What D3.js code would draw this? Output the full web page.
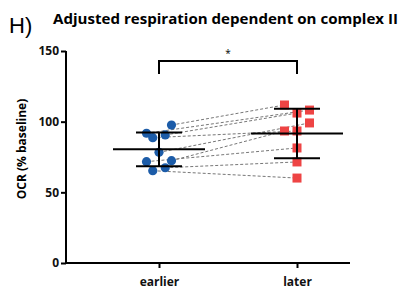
<!DOCTYPE html>
<html>
<head>
<meta charset="utf-8">
<script src="https://cdn.jsdelivr.net/npm/d3@7"></script>
<style>
  body { margin: 0; background: #fff; }
  svg { display: block; font-family: "Open Sans", "Liberation Sans", sans-serif; }
</style>
</head>
<body>
<div id="chart"></div>
<script>
var groups = ["earlier", "later"];
var earlier = [97.6, 91.8, 90.6, 88.7, 78.3, 72.4, 71.7, 67.4, 65.3];
var later = [111.8, 108.2, 106.1, 93.4, 99.1, 93.4, 81.4, 71.5, 60.1];
// horizontal jitter of each point, in columns of the swarm (-1, 0, 1)
var earlierCol = [1, -1, 0.5, -0.5, 0, 1, -1, 0.5, -0.5];
var laterCol = [-1, 1, 0, 0, 1, -1, 0, 0, 0];
var yTicks = [0, 50, 100, 150];

(function () {
    var width = 409, height = 289;
    var svg = d3.select("#chart").append("svg")
        .attr("width", width).attr("height", height);

    var x = d3.scalePoint().domain(groups).range([159, 297]);
    var y = d3.scaleLinear().domain([0, 150]).range([263, 51]);
    var jit = 12.5;

    // title
    svg.append("text").attr("x", 9).attr("y", 33)
        .style("font-size", "22px").style("font-family", "Liberation Sans, sans-serif")
        .text("H)");
    svg.append("text").attr("x", 53).attr("y", 24)
        .style("font-size", "14px").style("font-weight", "bold")
        .attr("textLength", 345).attr("lengthAdjust", "spacingAndGlyphs")
        .text("Adjusted respiration dependent on complex II");

    // axes
    var yAxis = svg.append("g").attr("transform", "translate(66,0)")
        .call(d3.axisLeft(y).tickValues(yTicks).tickSize(5).tickPadding(2));
    var xAxis = svg.append("g").attr("transform", "translate(0,263)")
        .call(d3.axisBottom(x).tickSize(5).tickPadding(9));
    // extend the x axis line to the plot width
    xAxis.select(".domain").attr("d", "M66,0H350");
    yAxis.select(".domain").attr("d", "M0,51V263");
    svg.selectAll(".domain, .tick line").attr("stroke", "#000").attr("stroke-width", 2);
    svg.selectAll(".tick text").style("font-size", "12px").style("font-weight", "bold")
        .style("font-family", "Open Sans, sans-serif").attr("fill", "#111");

    svg.append("text")
        .attr("transform", "translate(26,149) rotate(-90)")
        .attr("text-anchor", "middle")
        .style("font-size", "12px").style("font-weight", "bold")
        .text("OCR (% baseline)");

    // paired dashed lines
    svg.append("g").selectAll("line").data(earlier).enter().append("line")
        .attr("x1", (d, i) => x("earlier") + earlierCol[i] * jit)
        .attr("y1", d => y(d))
        .attr("x2", (d, i) => x("later") + laterCol[i] * jit)
        .attr("y2", (d, i) => y(later[i]))
        .attr("stroke", "#777").attr("stroke-width", 1)
        .attr("stroke-dasharray", "3,2");

    // mean +/- sd
    function summary(vals, g) {
        var m = d3.mean(vals), s = d3.deviation(vals), cx = x(g);
        var gg = svg.append("g").attr("stroke", "#000").attr("stroke-width", 2);
        gg.append("line").attr("x1", cx - 46).attr("x2", cx + 46).attr("y1", y(m)).attr("y2", y(m));
        gg.append("line").attr("x1", cx).attr("x2", cx).attr("y1", y(m + s)).attr("y2", y(m - s));
        gg.append("line").attr("x1", cx - 23).attr("x2", cx + 23).attr("y1", y(m + s)).attr("y2", y(m + s));
        gg.append("line").attr("x1", cx - 23).attr("x2", cx + 23).attr("y1", y(m - s)).attr("y2", y(m - s));
    }

    svg.append("g").selectAll("circle").data(earlier).enter().append("circle")
        .attr("cx", (d, i) => x("earlier") + earlierCol[i] * jit)
        .attr("cy", d => y(d))
        .attr("r", 4.6)
        .attr("fill", "#1c5ca8");

    svg.append("g").selectAll("rect").data(later).enter().append("rect")
        .attr("x", (d, i) => x("later") + laterCol[i] * jit - 4.5)
        .attr("y", d => y(d) - 4.5)
        .attr("width", 9).attr("height", 9)
        .attr("fill", "#ee4444");

    summary(earlier, "earlier");
    summary(later, "later");

    // significance bracket
    svg.append("path")
        .attr("d", "M" + x("earlier") + ",74V61H" + x("later") + "V74")
        .attr("fill", "none").attr("stroke", "#000").attr("stroke-width", 2);
    svg.append("text").attr("x", (x("earlier") + x("later")) / 2).attr("y", 57)
        .attr("text-anchor", "middle").style("font-size", "10px").text("*");
}());
</script>
</body>
</html>
